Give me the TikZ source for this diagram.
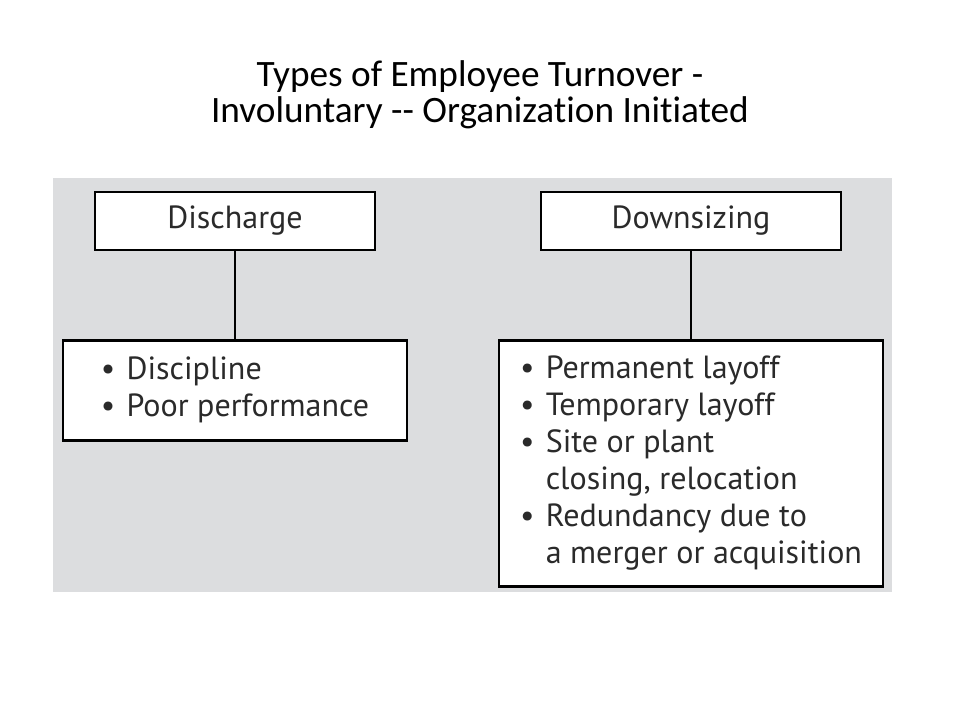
\documentclass[tikz,border=0pt]{standalone}
\usepackage{fontspec}
\setmainfont{Carlito}[Ligatures=NoCommon]
\newfontfamily\boxfont{PT Sans}
\usepackage{xcolor}
\usetikzlibrary{positioning}
\definecolor{panelgray}{HTML}{DCDDDF}
\definecolor{inkgray}{HTML}{2A2A2A}

\begin{document}
\begin{tikzpicture}[
  headbox/.style={fill=white, draw=black, line width=2pt, minimum height=1.45cm,
              inner sep=0pt, font=\boxfont\fontsize{22.8}{26}\selectfont, text=inkgray},
  listbox/.style={fill=white, draw=black, line width=2pt, inner sep=0pt,
              font=\boxfont\fontsize{22.8}{26.3}\selectfont, text=inkgray},
  link/.style={line width=2pt, color=black}
]
\useasboundingbox (0,0) rectangle (24,-18);

\node[font=\fontsize{26.5}{25}\selectfont, align=center] (title) at (12,-2.37)
  {Types of Employee Turnover -\\Involuntary -{}- Organization Initiated};

\fill[panelgray] (1.325,-4.45) rectangle (22.3,-14.8);

\node[headbox, minimum width=7.0cm] (discharge) at (5.875,-5.525) {Discharge};
\node[listbox, minimum width=8.6cm, minimum height=2.5cm, below=2.2cm of discharge] (dlist)
  {\begin{tabular}{@{}l@{\hspace{0.35em}}l@{}}
   \textbullet & Discipline\\
   \textbullet & Poor performance
   \end{tabular}};

\node[headbox, minimum width=7.5cm] (downsizing) at (17.275,-5.525) {Downsizing};
\node[listbox, minimum width=9.6cm, minimum height=6.15cm, below=2.2cm of downsizing] (wlist)
  {\begin{tabular}{@{}l@{\hspace{0.35em}}l@{}}
   \textbullet & Permanent layoff\\
   \textbullet & Temporary layoff\\
   \textbullet & Site or plant\\
               & closing, relocation\\
   \textbullet & Redundancy due to\\
               & a merger or acquisition
   \end{tabular}};

\draw[link] (discharge) -- (dlist);
\draw[link] (downsizing) -- (wlist);

\end{tikzpicture}
\end{document}
